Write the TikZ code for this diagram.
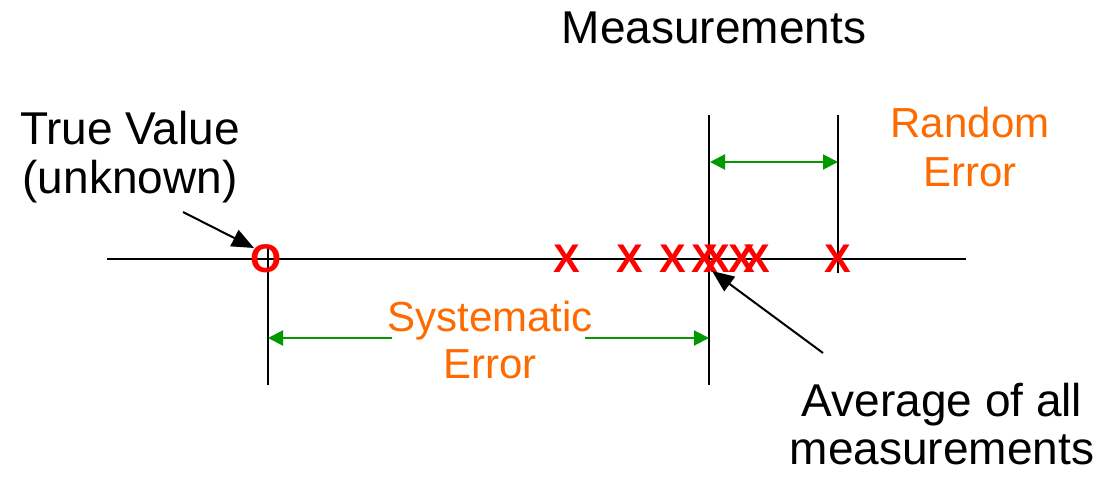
\documentclass[tikz,border=0pt]{standalone}
\usepackage{fontspec}
\setmainfont{Liberation Sans}
\usetikzlibrary{arrows.meta}
\definecolor{errorange}{HTML}{FF6A00}
\definecolor{arrgreen}{HTML}{009900}
\tikzset{
  big/.style={inner sep=0pt, anchor=base, font=\fontsize{46}{52}\selectfont},
  orange/.style={inner sep=0pt, anchor=base, text=errorange, font=\fontsize{42}{48}\selectfont},
  meas/.style={inner sep=0pt, text=red, font=\bfseries\fontsize{40}{46}\selectfont},
  axis/.style={line width=1.8pt, black},
  garrow/.style={line width=2pt, arrgreen, {Triangle[length=15pt,width=15pt]}-{Triangle[length=15pt,width=15pt]}},
  garrowr/.style={line width=2pt, arrgreen, -{Triangle[length=15pt,width=15pt]}},
  garrowl/.style={line width=2pt, arrgreen, {Triangle[length=15pt,width=15pt]}-},
  barrow/.style={line width=2pt, black, -{Triangle[length=22pt,width=18pt]}}
}
\begin{document}
\begin{tikzpicture}[x=1pt,y=-1pt]
\useasboundingbox (0,0) rectangle (1107,476);
% axis
\coordinate (axL) at (107,259);
\coordinate (axR) at (966,259);
\draw[axis] (axL) -- (axR);
% vertical lines
\coordinate (tTop) at (268,245);
\coordinate (tBot) at (268,385);
\coordinate (aTop) at (709,115);
\coordinate (aBot) at (709,385);
\coordinate (rTop) at (838,115);
\coordinate (rBot) at (838,273);
\draw[axis] (tTop) -- (tBot);
\draw[axis] (aTop) -- (aBot);
\draw[axis] (rTop) -- (rBot);
% true value marker
\node[meas] (o) at (266,259) {O};
% measurements
\node[meas] (m1) at (567,259) {X};
\node[meas] (m2) at (630,259) {X};
\node[meas] (m3) at (673,259) {X};
\node[meas] (m4) at (705,259) {X};
\node[meas] (m5) at (717,259) {X};
\node[meas] (m6) at (742,259) {X};
\node[meas] (m7) at (757,259) {X};
\node[meas] (m8) at (838,259) {X};
% texts
\node[big] (meastitle) at (714,44) {Measurements};
\node[big] (tv1) at (130,144) {True Value};
\node[big] (tv2) at (130,193) {(unknown)};
\node[orange] (re1) at (970,137) {Random};
\node[orange] (re2) at (970,186) {Error};
\node[orange] (se1) at (490,331) {Systematic};
\node[orange] (se2) at (490,378) {Error};
\node[big] (av1) at (942,416) {Average of all};
\node[big] (av2) at (942,464) {measurements};
% green arrows
\coordinate (sL) at (268,338);
\coordinate (sLe) at (392,338);
\coordinate (sRs) at (585,338);
\coordinate (sR) at (709,338);
\draw[garrowl] (sL) -- (sLe);
\draw[garrowr] (sRs) -- (sR);
\coordinate (rL) at (710,162);
\coordinate (rR) at (838,162);
\draw[garrow] (rL) -- (rR);
% black pointer arrows
\coordinate (tvs) at (183,212);
\coordinate (tve) at (254,248);
\draw[barrow] (tvs) -- (tve);
\coordinate (avs) at (823,353);
\coordinate (ave) at (712,271);
\draw[barrow] (avs) -- (ave);
\end{tikzpicture}
\end{document}
